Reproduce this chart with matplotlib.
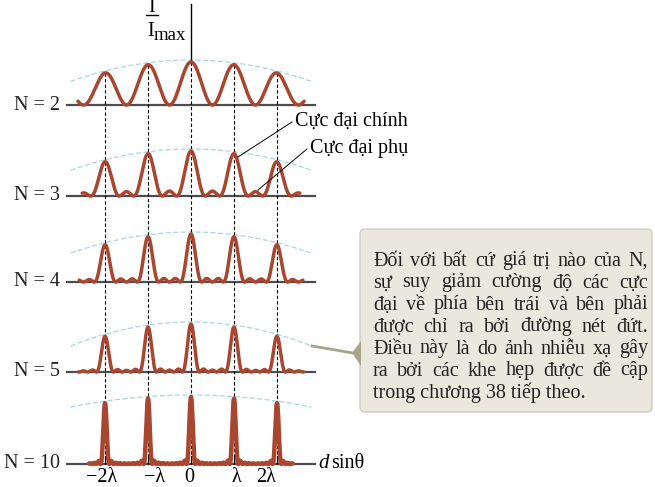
import numpy as np
import matplotlib.pyplot as plt
import matplotlib.transforms as mtransforms
from matplotlib.patches import FancyBboxPatch, Polygon

plt.rcParams['font.family'] = ['Liberation Serif', 'DejaVu Serif']

# ---- data ----
N_values = [2, 3, 4, 5, 10]
orders = [-2, -1, 0, 1, 2]                  # principal maxima, in units of lambda
order_labels = ['\u22122\u03bb', '\u2212\u03bb', '0', '\u03bb', '2\u03bb']
peak_height = [43, 45, 48, 48, 67]          # height of central peak (px)
edge_drop = [0.50, 0.47, 0.44, 0.50, 0.18]  # envelope fall-off at the edge of the arc
curve_extent = [2.63, 2.53, 2.60, 2.62, 2.37]
env_edge = 2.8

callout_lines = [
    "Đối với bất cứ giá trị nào của N,",
    "sự suy giảm cường độ các cực",
    "đại về phía bên trái và bên phải",
    "được chỉ ra bởi đường nét đứt.",
    "Điều này là do ảnh nhiễu xạ gây",
    "ra bởi các khe hẹp được đề cập",
    "trong chương 38 tiếp theo.",
]

# ---- layout ----
W, H = 655, 487
x0, dx = 191, 43
baselines = [105, 196, 282, 372, 464]
label_px = [102, 155, 189, 236, 266]
curve_color = '#A9462F'
env_color = '#A6D6E8'

fig = plt.figure(figsize=(W / 100, H / 100), dpi=100)
ax = fig.add_axes([0, 0, 1, 1])
ax.set_xlim(-x0 / dx, (W - x0) / dx)
ax.set_ylim(H, 0)
ax.axis('off')

# pixel transform (origin top-left)
px = mtransforms.Affine2D().scale(1 / W, -1 / H).translate(0, 1) + fig.transFigure


def envelope(x, k):
    return 1 - k * (x / env_edge) ** 2


for i, (N, base, h, k, ext) in enumerate(zip(N_values, baselines, peak_height,
                                               edge_drop, curve_extent)):
    x = np.linspace(-ext, ext, 3000)
    s = np.sin(np.pi * x)
    small = np.abs(s) < 1e-9
    ratio = np.where(small, 1.0, np.sin(N * np.pi * x) / (N * np.where(small, 1.0, s)))
    I = envelope(x, k) * ratio ** 2
    lw = 3.2 if N == 10 else 2.5
    ax.plot(x, base - h * I, color=curve_color, lw=lw, solid_capstyle='round', zorder=3)

    xe = np.linspace(-env_edge, env_edge, 300)
    ax.plot(xe, base - h * envelope(xe, k) - 2, color=env_color, lw=0.9,
            dashes=(4, 2), zorder=1)

    ax.plot([-2.88, 2.88], [base, base], color='#4d4d4d', lw=1.6, zorder=2)
    ax.text(60, base, f'N = {N}', transform=px, ha='right', va='center',
            fontsize=14.5, color='#222222')

# dashed lines through principal maxima
for o in orders:
    top = baselines[0] - peak_height[0] * envelope(o, edge_drop[0])
    ax.plot([o, o], [top, baselines[-1]], color='black', lw=0.8, dashes=(3, 2), zorder=2)
    ax.plot([o, o], [baselines[-1] - 8, baselines[-1]], color='black', lw=0.8, zorder=2)

# vertical axis + label
ax.plot([0, 0], [4, 62], color='black', lw=1.0, zorder=2)
ax.text(152, 7, 'I', transform=px, ha='center', va='center', fontsize=14)
ax.plot([146, 158], [15, 15], transform=px, color='black', lw=1.0)
ax.text(147, 32, 'I', transform=px, ha='left', va='center', fontsize=14.5)
ax.text(154, 36, 'max', transform=px, ha='left', va='center', fontsize=13.5)

# tick labels
for lx, lab in zip(label_px, order_labels):
    ax.text(lx, 478, lab, transform=px, ha='center', va='center', fontsize=14.5)

ax.text(318, 463, 'd', transform=px, ha='left', va='center', fontsize=15, style='italic')
ax.text(331, 463, 'sin\u03b8', transform=px, ha='left', va='center', fontsize=14.5)

# annotations
ax.text(295, 121, 'Cực đại chính', transform=px, ha='left', va='center', fontsize=14.5)
ax.plot([292, 238], [122, 157], transform=px, color='black', lw=0.7, zorder=4)
ax.text(310, 148, 'Cực đại phụ', transform=px, ha='left', va='center', fontsize=14.5)
ax.plot([307, 258], [149, 190], transform=px, color='black', lw=0.7, zorder=4)

# callout box
box = FancyBboxPatch((360, 229), 292, 183, boxstyle='round,pad=0,rounding_size=5',
                     transform=px, facecolor='#EAE8DD', edgecolor='#CFCDBF', lw=1.0,
                     zorder=5)
ax.add_patch(box)
tri = Polygon([[361, 341], [352, 353], [361, 366]], closed=True, transform=px,
              facecolor='#A8A489', edgecolor='none', zorder=6)
ax.add_patch(tri)
ax.plot([312, 353], [346, 353], transform=px, color='#A8A489', lw=2.0, zorder=6)

renderer = fig.canvas.get_renderer()
left, right = 373, 648
for i, line in enumerate(callout_lines):
    y = 261 + 22 * i
    words = line.split()
    if i == len(callout_lines) - 1:
        ax.text(left, y, line, transform=px, ha='left', va='center', fontsize=14.5,
                color='#222222', zorder=7)
        continue
    arts = [ax.text(0, y, w, transform=px, ha='left', va='center', fontsize=14.5,
                    color='#222222', zorder=7) for w in words]
    widths = [a.get_window_extent(renderer).width for a in arts]
    gap = (right - left - sum(widths)) / (len(words) - 1)
    xpos = left
    for a, wd in zip(arts, widths):
        a.set_x(xpos)
        xpos += wd + gap

fig.savefig('out.png', dpi=100)
